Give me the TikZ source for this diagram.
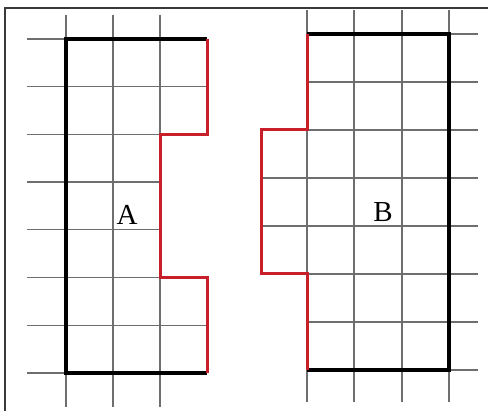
\documentclass[tikz,border=0pt]{standalone}
\usepackage{fontspec}
\setmainfont{Liberation Serif}
\definecolor{gridgray}{HTML}{6E6E6E}
\definecolor{cutred}{HTML}{C8202A}
\definecolor{framegray}{HTML}{3A3A3A}
\begin{document}
\begin{tikzpicture}[x=1pt,y=-1pt,
  gridline/.style={draw=gridgray,line width=1.2pt},
  outline/.style={draw=black,line width=3.6pt,line cap=square,line join=miter},
  cutline/.style={draw=cutred,line width=3pt,line join=miter},
  lbl/.style={font=\fontsize{29}{29}\selectfont,inner sep=0pt}]
\useasboundingbox (0,0) rectangle (488,411);
\fill[white] (0,0) rectangle (488,411);
% frame (left and top only)
\draw[framegray,line width=1.4pt] (5,411) -- (5,8) -- (488,8);
% ---------- left grid ----------
\foreach \x in {66,113,160} \draw[gridline] (\x,15) -- (\x,407);
\foreach \y in {86.7,134.4,325.2,373} \draw[gridline] (27,\y) -- (207,\y);
\foreach \y in {39} \draw[gridline] (27,\y) -- (66,\y);
\foreach \y in {182.1,229.8} \draw[gridline] (27,\y) -- (160,\y);
\draw[gridline] (27,277.5) -- (207,277.5);
% shape A
\draw[outline] (207,39) -- (66,39) -- (66,373) -- (207,373);
\draw[cutline] (207,39) -- (207,134.4) -- (160,134.4) -- (160,277.5) -- (207,277.5) -- (207,373);
\node[lbl] (A) at (127,215) {A};
% ---------- right grid ----------
\foreach \x in {307,354,402,449} \draw[gridline] (\x,10) -- (\x,402);
\foreach \y in {34,82,322,370} \draw[gridline] (307,\y) -- (478,\y);
\foreach \y in {130,178,226,274} \draw[gridline] (261,\y) -- (478,\y);
% shape B
\draw[outline] (307,34) -- (449,34) -- (449,370) -- (307,370);
\draw[cutline] (307,34) -- (307,130) -- (261,130) -- (261,274) -- (307,274) -- (307,370);
\node[lbl] (B) at (383,212) {B};
\end{tikzpicture}
\end{document}
